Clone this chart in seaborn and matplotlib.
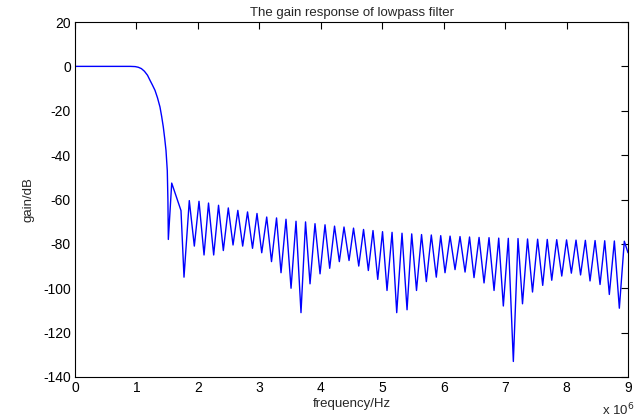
import matplotlib
matplotlib.use("Agg")
import matplotlib.pyplot as plt
import seaborn as sns
import pandas as pd

# frequency in units of 1e6 Hz, gain in dB
pass_freq = [0.0, 0.5, 0.9, 0.98, 1.03, 1.08, 1.13, 1.18, 1.221, 1.26, 1.302,
             1.343, 1.383, 1.41, 1.437, 1.46, 1.481, 1.502, 1.512]
pass_gain = [0.0, 0.0, 0.0, -0.1, -0.4, -1.0, -2.2, -4.0, -6.3, -8.4, -10.8,
             -14.2, -18.3, -22.5, -27.3, -32.5, -37.9, -47.0, -60.0]

# first null, first sidelobe and its falling shoulder
first_freq = [1.519, 1.574, 1.725]
first_gain = [-78.0, -52.6, -65.0]

null_freq = [1.774, 1.942, 2.100, 2.257, 2.414, 2.572, 2.729, 2.889, 3.039, 3.198,
             3.353, 3.516, 3.678, 3.825, 3.988, 4.145, 4.302, 4.460, 4.618, 4.774,
             4.927, 5.078, 5.236, 5.404, 5.558, 5.718, 5.880, 6.022, 6.185, 6.348,
             6.494, 6.657, 6.820, 6.971, 7.134, 7.283, 7.446, 7.612, 7.759, 7.922,
             8.078, 8.228, 8.382, 8.545, 8.696, 8.859]
null_gain = [-95.0, -81.0, -85.0, -85.0, -83.0, -80.5, -81.0, -82.0, -84.0, -88.0,
             -93.0, -100.0, -111.0, -98.0, -93.5, -91.0, -88.0, -87.5, -90.0, -92.0,
             -96.0, -101.0, -111.0, -109.7, -101.0, -97.0, -95.0, -93.0, -91.6, -92.7,
             -95.2, -97.6, -101.0, -108.0, -133.0, -107.0, -101.7, -98.7, -96.4, -94.5,
             -93.2, -94.0, -96.7, -98.3, -102.8, -109.0]

peak_freq = [1.860, 2.018, 2.173, 2.336, 2.495, 2.650, 2.808, 2.962, 3.120, 3.280,
             3.434, 3.597, 3.752, 3.906, 4.069, 4.224, 4.378, 4.533, 4.696, 4.850,
             5.005, 5.160, 5.322, 5.480, 5.640, 5.799, 5.952, 6.104, 6.266, 6.421,
             6.576, 6.738, 6.896, 7.052, 7.210, 7.365, 7.529, 7.686, 7.840, 8.000,
             8.154, 8.306, 8.464, 8.621, 8.778, 8.940]
peak_gain = [-60.5, -60.8, -61.6, -62.6, -63.8, -64.9, -65.6, -66.3, -67.9, -68.3,
             -68.9, -69.8, -70.1, -70.9, -71.4, -72.0, -72.4, -72.9, -73.5, -74.0,
             -74.5, -74.8, -75.2, -75.5, -75.8, -76.0, -76.3, -76.5, -76.7, -76.9,
             -77.1, -77.2, -77.4, -77.5, -77.6, -77.8, -77.9, -78.0, -78.1, -78.2,
             -78.3, -78.4, -78.5, -78.6, -78.7, -78.8]

end_freq = [9.0]
end_gain = [-84.0]

# stitch the pieces together: null, peak, null, peak ...
freq = pass_freq + first_freq
gain = pass_gain + first_gain
for nf, ng, pf, pg in zip(null_freq, null_gain, peak_freq, peak_gain):
    freq += [nf, pf]
    gain += [ng, pg]
freq += end_freq
gain += end_gain

df = pd.DataFrame({"freq": freq, "gain": gain})

sns.set_theme(style="white")
plt.rcParams["font.family"] = ["Liberation Sans", "DejaVu Sans"]
plt.rcParams["axes.unicode_minus"] = False

fig = plt.figure(figsize=(6.41, 4.20), dpi=100)
ax = fig.add_axes([75 / 641, 1 - 377 / 420, (628 - 75) / 641, (377 - 22) / 420])

sns.lineplot(data=df, x="freq", y="gain", ax=ax, color="#0000ff",
             linewidth=1.0, sort=False, estimator=None)

ax.set_xlim(0, 9)
ax.set_ylim(-140, 20)
ax.set_xticks(range(0, 10))
ax.set_yticks(range(-140, 21, 20))
ax.tick_params(direction="in", top=True, right=True, length=5, width=0.8,
               labelsize=10, colors="black", pad=3)
for s in ax.spines.values():
    s.set_color("black")
    s.set_linewidth(0.8)

ax.set_title("The gain response of lowpass filter", fontsize=9.5, pad=4)
ax.set_xlabel("frequency/Hz", fontsize=9.5, labelpad=2)
ax.set_ylabel("gain/dB", fontsize=9.5, labelpad=6)
fig.text(618 / 641, 1 - 410 / 420, r"x 10$^6$", fontsize=9.5, ha="center", va="center")

fig.savefig("out.png", dpi=100, facecolor="white")
